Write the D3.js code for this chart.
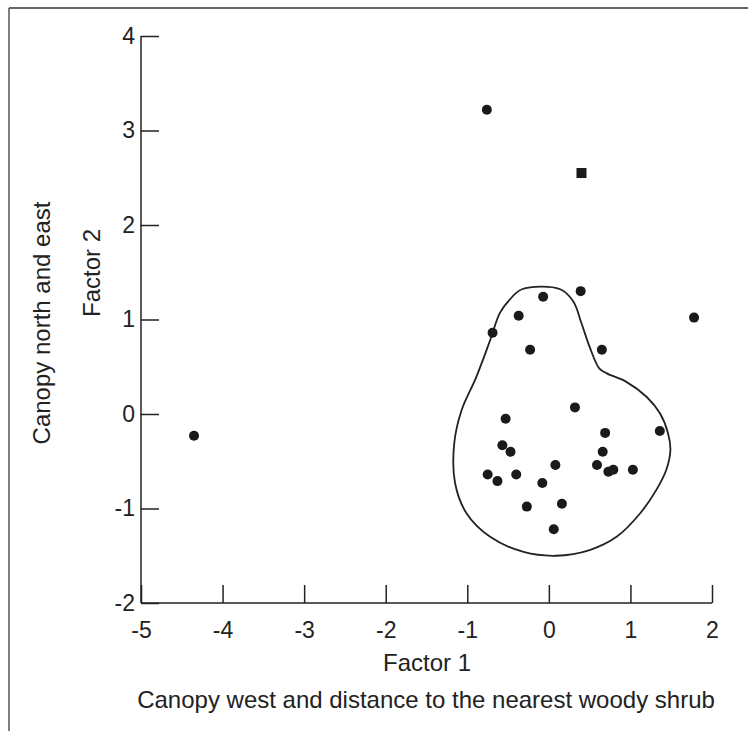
<!DOCTYPE html>
<html><head><meta charset="utf-8">
<script src="https://cdn.jsdelivr.net/npm/d3@7"></script>
<style>html,body{margin:0;padding:0;background:#fff}svg{display:block}text{font-family:"Liberation Sans",Arial,sans-serif;fill:#222}</style>
</head><body>
<script>
const xTicks = [-5,-4,-3,-2,-1,0,1,2];
const yTicks = [-2,-1,0,1,2,3,4];
const factor1 = [-4.35,-0.76,1.78,0.39,-0.07,-0.37,-0.69,-0.23,0.65,0.32,-0.53,1.36,0.69,-0.57,-0.47,0.66,0.08,0.59,0.73,0.79,1.03,-0.75,-0.63,-0.40,-0.08,-0.27,0.16,0.06];
const factor2 = [-0.23,3.22,1.02,1.30,1.24,1.04,0.86,0.68,0.68,0.07,-0.05,-0.18,-0.20,-0.33,-0.40,-0.40,-0.54,-0.54,-0.61,-0.59,-0.59,-0.64,-0.71,-0.64,-0.73,-0.98,-0.95,-1.22];
const squareX = [0.40];
const squareY = [2.55];
const hullX = [-0.33,0.14,0.30,0.40,0.50,0.62,0.71,0.95,1.20,1.36,1.46,1.49,1.44,1.32,1.12,0.83,0.50,0.09,-0.31,-0.72,-1.01,-1.15,-1.16,-1.07,-0.89,-0.72,-0.60,-0.48];
const hullY = [1.32,1.32,1.19,0.96,0.71,0.48,0.43,0.34,0.18,0.01,-0.20,-0.38,-0.59,-0.80,-1.05,-1.30,-1.44,-1.50,-1.46,-1.30,-1.05,-0.73,-0.31,0.04,0.39,0.78,1.07,1.21];

const W = 748, H = 731;
const svg = d3.select("body").append("svg").attr("width", W).attr("height", H);
// frame
svg.append("line").attr("x1",9).attr("x2",W).attr("y1",8).attr("y2",8).attr("stroke","#333").attr("stroke-width",1.5);
svg.append("line").attr("x1",9).attr("x2",9).attr("y1",8).attr("y2",H).attr("stroke","#555").attr("stroke-width",1.5);

const x = d3.scaleLinear().domain([-5,2]).range([141,712]);
const y = d3.scaleLinear().domain([-2,4]).range([603,36]);

const fs = 23, fl = 24;
const fmt = d => String(d);
const gx = svg.append("g").attr("transform",`translate(0,${y(-2)})`)
  .call(d3.axisBottom(x).tickValues(xTicks).tickSize(-18).tickPadding(19).tickFormat(fmt));
gx.selectAll("text").attr("font-size",fs);
const gy = svg.append("g").attr("transform",`translate(${x(-5)},0)`)
  .call(d3.axisLeft(y).tickValues(yTicks).tickSize(-18).tickPadding(6).tickFormat(fmt));
gy.selectAll("text").attr("font-size",fs);
[gx,gy].forEach(g=>{
  g.attr("font-size",fs);
  g.select(".domain").attr("stroke","#222").attr("stroke-width",1.5);
  g.selectAll(".tick line").attr("stroke","#222").attr("stroke-width",1.5);
  g.selectAll("text").attr("fill","#222").attr("font-family","Liberation Sans, Arial, sans-serif");
});
gx.select(".domain").attr("d",`M${x(-5)},0H${x(2)}`);
gy.select(".domain").attr("d",`M0,${y(-2)}V${y(4)}`);

svg.append("text").attr("x",427).attr("y",671).attr("text-anchor","middle").attr("font-size",fl).text("Factor 1");
svg.append("text").attr("x",426).attr("y",708).attr("text-anchor","middle").attr("font-size",fl).text("Canopy west and distance to the nearest woody shrub");
svg.append("text").attr("transform","translate(100,273) rotate(-90)").attr("text-anchor","middle").attr("font-size",fl).text("Factor 2");
svg.append("text").attr("transform","translate(50,323) rotate(-90)").attr("text-anchor","middle").attr("font-size",fl).text("Canopy north and east");

// hull
const hull = hullX.map((v,i)=>[x(v),y(hullY[i])]);
svg.append("path").attr("d", d3.line().curve(d3.curveCatmullRomClosed.alpha(0.5))(hull))
  .attr("fill","none").attr("stroke","#222").attr("stroke-width",1.8);

// points
svg.selectAll("circle.pt").data(factor1).join("circle").attr("class","pt")
  .attr("cx",(d)=>x(d)).attr("cy",(d,i)=>y(factor2[i])).attr("r",5).attr("fill","#1a1a1a");
svg.selectAll("rect.sq").data(squareX).join("rect").attr("class","sq")
  .attr("x",d=>x(d)-5).attr("y",(d,i)=>y(squareY[i])-5).attr("width",10).attr("height",10).attr("fill","#1a1a1a");
</script>
</body></html>
